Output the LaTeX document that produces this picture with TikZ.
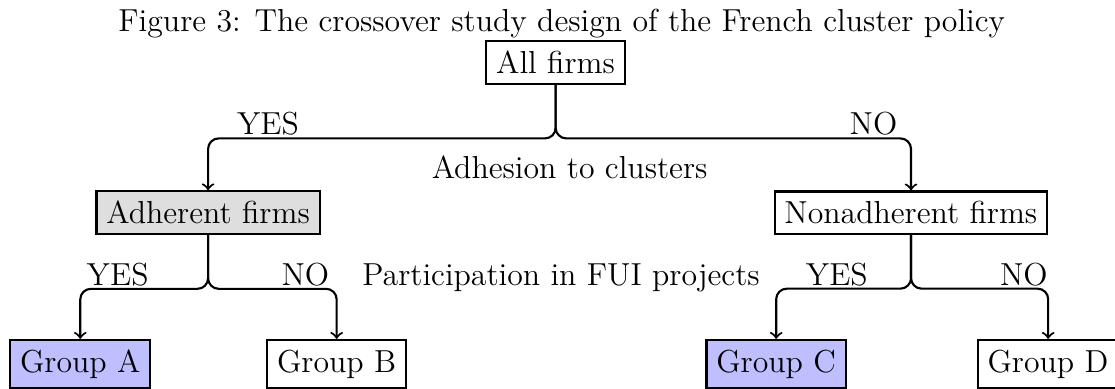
\documentclass[12pt,tikz,border=0pt]{standalone}
\usepackage{xcolor}
\usepackage{tikz}
\definecolor{adherentgray}{RGB}{222, 222, 222}
\definecolor{groupblue}{RGB}{191, 191, 255}
\tikzset{
  firmbox/.style={draw, thick, inner sep=3.7pt},
  branch/.style={->, thick, rounded corners=4pt}
}

\begin{document}
\begin{tikzpicture}[scale=1.033]
\useasboundingbox (0,0) rectangle (14.31,4.98);
\node[anchor=base] (caption) at (7.21,4.58) {Figure 3: The crossover study design of the French cluster policy};
\node[firmbox] (allfirms) at (7.13,4.18) {All firms};
\node[firmbox, fill=adherentgray] (adherent) at (2.67,2.25) {Adherent firms};
\node[firmbox] (nonadherent) at (11.69,2.25) {Nonadherent firms};
\node[firmbox, fill=groupblue, anchor=north] (groupA) at (1.03,0.63) {Group A};
\node[firmbox, anchor=north] (groupB) at (4.32,0.63) {Group B};
\node[firmbox, fill=groupblue, anchor=north] (groupC) at (9.96,0.63) {Group C};
\node[firmbox, anchor=north] (groupD) at (13.45,0.63) {Group D};
% splits
\draw[branch] (allfirms.south) -- ++(0,-0.69) -| (adherent.north);
\draw[branch] (allfirms.south) -- ++(0,-0.69) -| (nonadherent.north);
\draw[branch] (adherent.south) -- ++(0,-0.69) -| (groupA.north);
\draw[branch] (adherent.south) -- ++(0,-0.69) -| (groupB.north);
\draw[branch] (nonadherent.south) -- ++(0,-0.69) -| (groupC.north);
\draw[branch] (nonadherent.south) -- ++(0,-0.69) -| (groupD.north);
% labels
\node[anchor=base] (yes1) at (3.44,3.25) {YES};
\node[anchor=base] (no1) at (11.21,3.26) {NO};
\node[anchor=base] (adhesion) at (7.31,2.69) {Adhesion to clusters};
\node[anchor=base] (yes2) at (1.51,1.32) {YES};
\node[anchor=base] (no2) at (3.92,1.32) {NO};
\node[anchor=base] (participation) at (7.20,1.32) {Participation in FUI projects};
\node[anchor=base] (yes3) at (10.74,1.32) {YES};
\node[anchor=base] (no3) at (13.14,1.32) {NO};
\end{tikzpicture}
\end{document}
